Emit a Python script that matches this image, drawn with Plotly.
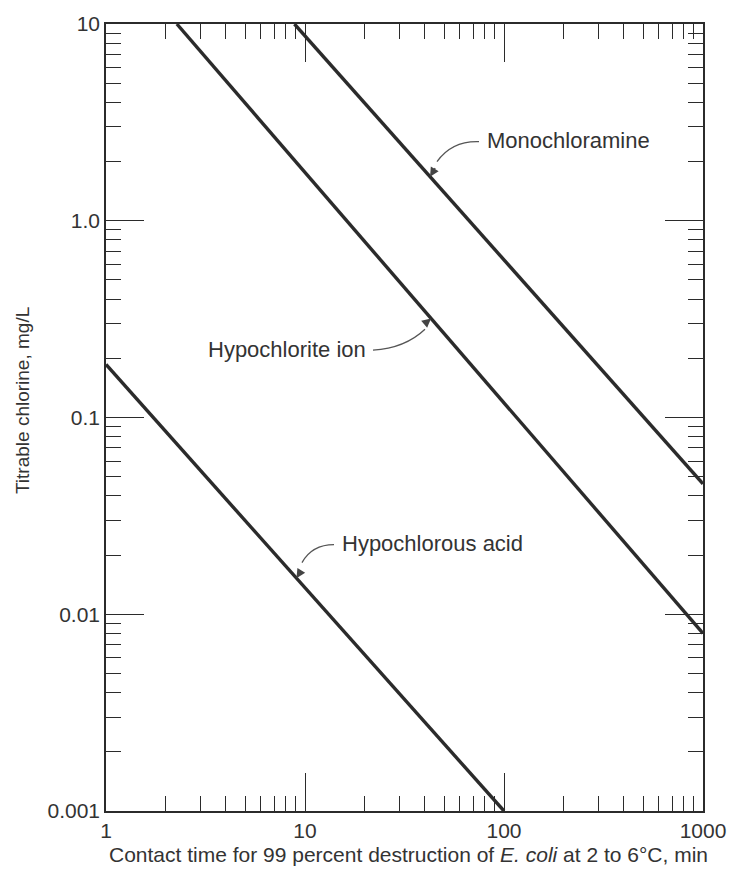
import numpy as np
import plotly.graph_objects as go

# ---- data ----
hocl_time = [1.0, 100.0]          # Hypochlorous acid
hocl_conc = [0.186, 0.001]
ocl_time = [2.27, 1000.0]         # Hypochlorite ion
ocl_conc = [10.0, 0.008]
nh2cl_time = [8.85, 1000.0]       # Monochloramine
nh2cl_conc = [10.0, 0.046]

x_tickvals = [1, 10, 100, 1000]
x_ticktext = ["1", "10", "100", "1000"]
y_tickvals = [0.001, 0.01, 0.1, 1, 10]
y_ticktext = ["0.001", "0.01", "0.1", "1.0", "10"]
x_minor = [m * d for d in [1, 10, 100] for m in range(2, 10)]
y_minor = [m * d for d in [0.001, 0.01, 0.1, 1] for m in range(2, 10)]

labels = ["Monochloramine", "Hypochlorite ion", "Hypochlorous acid"]
label_times = [42.5, 43.0, 9.06]   # where each leader arrow touches its line

x_title = "Contact time for 99 percent destruction of <i>E. coli</i> at 2 to 6°C, min"
y_title = "Titrable chlorine, mg/L"

# ---- layout geometry ----
W, H = 743, 870
L, R, T, B = 106, 703, 22, 811
FONT = "Liberation Sans, Arial, Helvetica, sans-serif"
INK = "#2b2b2b"


def px(X):
    return (X - L) / (R - L)


def py(Y):
    return (B - Y) / (B - T)


def on_line(t_arr, c_arr, t):
    lt = np.log10(t_arr)
    lc = np.log10(c_arr)
    return float(np.interp(np.log10(t), lt, lc))


fig = go.Figure()
series = [(nh2cl_time, nh2cl_conc), (ocl_time, ocl_conc), (hocl_time, hocl_conc)]
for (t, c), name in zip(series, labels):
    fig.add_trace(go.Scatter(x=t, y=c, mode="lines", name=name,
                             line=dict(color=INK, width=3.4), showlegend=False,
                             hoverinfo="skip"))

axis_common = dict(
    type="log", showgrid=False, zeroline=False, showline=True,
    linecolor=INK, linewidth=1.5, mirror="ticks",
    ticks="inside", ticklen=38, tickwidth=1.2, tickcolor=INK,
    tickfont=dict(family=FONT, size=21, color="#333"),
)

fig.update_xaxes(range=[0, 3], tickmode="array", tickvals=x_tickvals,
                 ticktext=x_ticktext,
                 minor=dict(tickmode="array", tickvals=x_minor, ticks="inside",
                            ticklen=15, tickwidth=1.1, tickcolor=INK),
                 **axis_common)
fig.update_yaxes(range=[-3, 1], tickmode="array", tickvals=y_tickvals,
                 ticktext=y_ticktext,
                 minor=dict(tickmode="array", tickvals=y_minor, ticks="inside",
                            ticklen=15, tickwidth=1.1, tickcolor=INK),
                 **axis_common)

# ---- labels with curved leaders ----
text_specs = [
    dict(x=px(485), y=py(139), xanchor="left"),
    dict(x=px(368), y=py(348), xanchor="right"),
    dict(x=px(340), y=py(543), xanchor="left"),
]
curves = [
    ((479, 140), (452, 139), (437, 160)),
    ((373, 349), (405, 347), (425, 328)),
    ((334, 544), (312, 544), (302, 562)),
]
arrow_offsets = [(6, -10), (-7, 6), (5, -8)]
series_for_label = [(nh2cl_time, nh2cl_conc), (ocl_time, ocl_conc), (hocl_time, hocl_conc)]

for name, spec, (p0, pc, p1), (ax, ay), (t, c), tt in zip(
        labels, text_specs, curves, arrow_offsets, series_for_label, label_times):
    fig.add_annotation(text=name, xref="paper", yref="paper", x=spec["x"], y=spec["y"],
                       xanchor=spec["xanchor"], yanchor="middle", showarrow=False,
                       font=dict(family=FONT, size=22, color="#333"))
    path = (f"M {px(p0[0])},{py(p0[1])} Q {px(pc[0])},{py(pc[1])} "
            f"{px(p1[0])},{py(p1[1])}")
    fig.add_shape(type="path", path=path, xref="paper", yref="paper",
                  line=dict(color="#555", width=1.3))
    fig.add_annotation(x=np.log10(tt), y=on_line(t, c, tt), xref="x", yref="y",
                       text="", showarrow=True, ax=ax, ay=ay, axref="pixel",
                       ayref="pixel", arrowhead=2, arrowsize=1.4, arrowwidth=1.3,
                       arrowcolor="#444", standoff=0)

# axis titles
fig.add_annotation(text=x_title, xref="paper", yref="paper", x=px(408), y=py(855),
                   xanchor="center", yanchor="middle", showarrow=False,
                   font=dict(family=FONT, size=21, color="#333"))
fig.add_annotation(text=y_title, xref="paper", yref="paper", x=px(22), y=py(400),
                   xanchor="center", yanchor="middle", showarrow=False, textangle=-90,
                   font=dict(family=FONT, size=19, color="#333"))

fig.update_layout(width=W, height=H, margin=dict(l=L, r=W - R, t=T, b=H - B),
                  paper_bgcolor="white", plot_bgcolor="white")

fig.write_html("out.html")
